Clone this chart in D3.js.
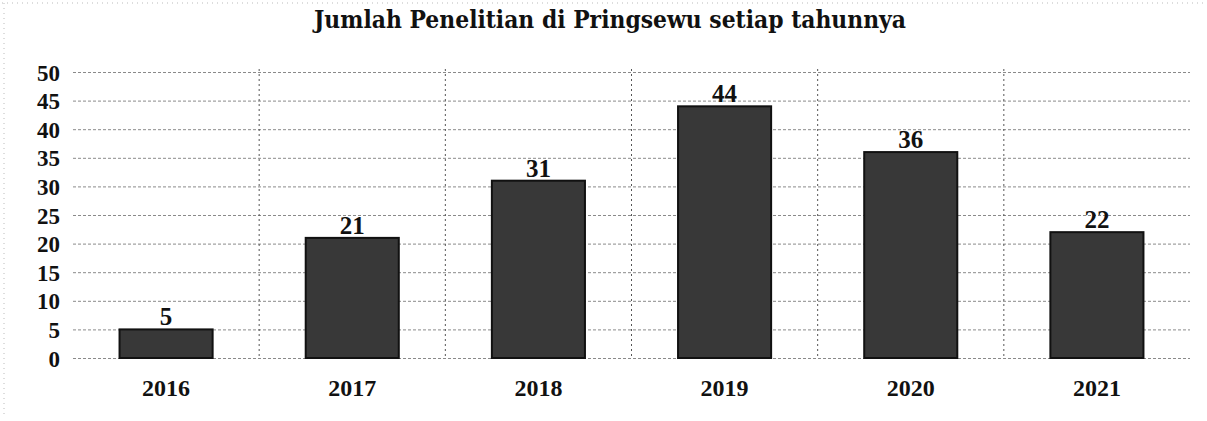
<!DOCTYPE html>
<html><head><meta charset="utf-8">
<script src="https://cdn.jsdelivr.net/npm/d3@7"></script>
<style>body{margin:0;background:#fff}svg{display:block}</style>
</head><body>
<svg id="c" width="1207" height="421"></svg>
<script>
const years = ["2016","2017","2018","2019","2020","2021"];
const counts = [5,21,31,44,36,22];
const yTicks = [0,5,10,15,20,25,30,35,40,45,50];
const title = "Jumlah Penelitian di Pringsewu setiap tahunnya";

const W = 1207, H = 421;
const m = {left:73, right:17, top:72, bottom:63};
const svg = d3.select("#c");
const serif = "'Liberation Serif','DejaVu Serif',serif";
const slab = "'DejaVu Serif','Liberation Serif',serif";

// faint scan-like border
svg.append("line").attr("x1",2).attr("x2",W-2).attr("y1",3).attr("y2",3)
  .attr("stroke","#bbb").attr("stroke-dasharray","1,4");
svg.append("line").attr("x1",4).attr("x2",4).attr("y1",3).attr("y2",H-3)
  .attr("stroke","#bbb").attr("stroke-dasharray","1,4");

const x = d3.scaleBand().domain(years).range([m.left, W-m.right]).paddingInner(0.5).paddingOuter(0.25);
const y = d3.scaleLinear().domain([0,50]).range([H-m.bottom, m.top]);

// horizontal gridlines
svg.append("g").attr("class","hgrid")
  .attr("transform",`translate(${m.left},0)`)
  .call(d3.axisLeft(y).tickValues(yTicks).tickSize(-(W-m.right-m.left)).tickFormat(""))
  .call(g=>g.select(".domain").remove())
  .call(g=>g.selectAll("line").attr("stroke","#8a8a8a").attr("stroke-width",1).attr("stroke-dasharray","3,2"));

// vertical gridlines at band boundaries
const vb = years.slice(1).map((d,i)=> (x(years[i]) + x.bandwidth() + x(d)) / 2);
svg.append("g").selectAll("line").data(vb).join("line")
  .attr("x1",d=>d).attr("x2",d=>d).attr("y1",y(50)-3).attr("y2",y(0))
  .attr("stroke","#555").attr("stroke-width",1).attr("stroke-dasharray","2,3");

// bars
svg.append("g").selectAll("rect").data(counts).join("rect")
  .attr("x",(d,i)=>x(years[i]))
  .attr("y",d=>y(d))
  .attr("width",x.bandwidth())
  .attr("height",d=>y(0)-y(d))
  .attr("fill","#383838").attr("stroke","#111").attr("stroke-width",2);

// value labels
svg.append("g").selectAll("text").data(counts).join("text")
  .attr("x",(d,i)=>x(years[i])+x.bandwidth()/2)
  .attr("y",d=>y(d)-4)
  .attr("text-anchor","middle")
  .attr("font-family",serif).attr("font-weight","bold").attr("font-size",25)
  .attr("fill","#111").text(d=>d);

// y axis labels
svg.append("g").attr("transform",`translate(${m.left-13},0)`)
  .call(d3.axisLeft(y).tickValues(yTicks).tickSize(0).tickPadding(0))
  .call(g=>g.select(".domain").remove())
  .call(g=>g.selectAll("text").attr("font-family",serif).attr("font-weight","bold")
    .attr("font-size",23).attr("fill","#111").attr("dy","0.35em"));

// x axis labels
svg.append("g").attr("transform",`translate(0,${y(0)})`)
  .call(d3.axisBottom(x).tickSize(0).tickPadding(21))
  .call(g=>g.select(".domain").remove())
  .call(g=>g.selectAll("text").attr("font-family",serif).attr("font-weight","bold")
    .attr("font-size",24).attr("fill","#111"));

// title
svg.append("text").attr("x",610).attr("y",28).attr("text-anchor","middle")
  .attr("font-family",slab).attr("font-weight","bold").attr("font-size",24)
  .attr("textLength",592).attr("lengthAdjust","spacingAndGlyphs")
  .attr("fill","#111").text(title);
</script>
</body></html>
